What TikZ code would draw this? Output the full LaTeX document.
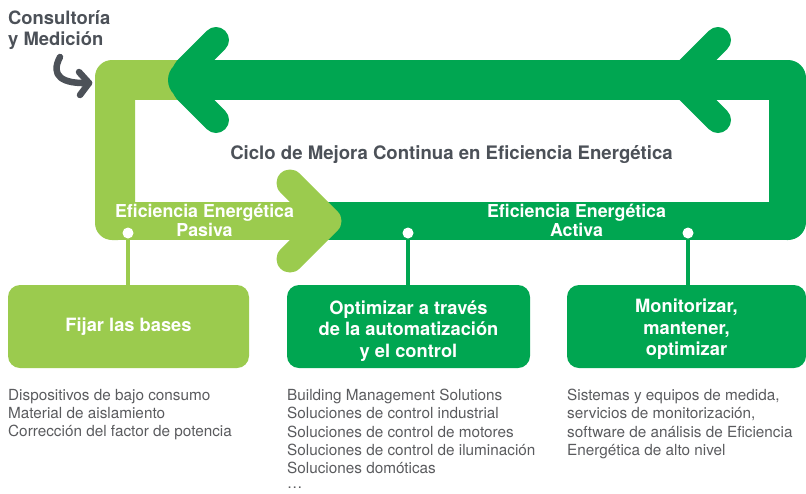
\documentclass[tikz,border=0pt]{standalone}
\usepackage{fontspec}
\setmainfont{TeX Gyre Heros}
\definecolor{dgreen}{HTML}{00A651}
\definecolor{lgreen}{HTML}{9BCB4E}
\definecolor{tgray}{HTML}{4C5158}
\definecolor{lgray}{HTML}{5A5B5E}
\begin{document}
\begin{tikzpicture}[x=1pt,y=-1pt,
  chev/.style={line width=26pt, line cap=round, line join=round},
  stem/.style={line width=4pt},
  dot/.style={circle, fill=white, minimum size=11pt, inner sep=0pt},
  stepbox/.style={rounded corners=12pt, minimum height=83pt, inner sep=0pt, text=white, align=center, font=\fontsize{18.3}{21.5}\selectfont\bfseries},
  bandlabel/.style={text=white, align=center, font=\fontsize{17.8}{19}\selectfont\bfseries, inner sep=0pt},
  listtext/.style={text=lgray, align=left, anchor=north west, inner sep=0pt, font=\fontsize{15.3}{18.3}\selectfont},
  headtext/.style={text=tgray, inner sep=0pt, font=\fontsize{18.4}{21}\selectfont\bfseries},
  grayarrow/.style={draw=tgray, line width=6.5pt, line cap=round, line join=round},
]
\useasboundingbox (0,0) rectangle (806,493);

% light green band (left and top start)
\fill[lgreen, rounded corners=17pt] (95,60) rectangle (135,240);
\fill[lgreen] (120,60) rectangle (200,100);

% dark green band: top, right, bottom
\fill[dgreen] (188,60) rectangle (790,100);
\fill[dgreen] (188,80) circle (20);
\fill[dgreen, rounded corners=18pt] (769,60) rectangle (806,240);
\fill[dgreen] (320,201.7) rectangle (790,240);

% left arrowhead of the top band
\coordinate (la1) at (216,40);
\coordinate (la2) at (186,70);
\coordinate (la3) at (186,90);
\coordinate (la4) at (216,120);
\draw[chev, dgreen] (la1) -- (la2);
\draw[chev, dgreen] (la4) -- (la3);

% right chevron on the top band
\coordinate (ra1) at (718,40);
\coordinate (ra2) at (678,80);
\coordinate (ra3) at (718,120);
\draw[chev, dgreen] (ra1) -- (ra2) -- (ra3);

% light green bottom band with arrowhead
\fill[lgreen] (120,201.7) rectangle (320,240);
\coordinate (ba1) at (290,183);
\coordinate (ba2) at (328,221);
\coordinate (ba3) at (290,259);
\draw[chev, lgreen, line width=27pt] (ba1) -- (ba2) -- (ba3);

% title
\node[headtext, anchor=base, font=\fontsize{18.6}{22}\selectfont\bfseries] (title) at (451.5,159) {Ciclo de Mejora Continua en Eficiencia Energética};

% Consultoria
\node[headtext, align=left, anchor=north west] (cons) at (8,10.5) {Consultoría\\y Medición};
\coordinate (g1) at (60,57);
\coordinate (g2) at (89,83);
\coordinate (gh1) at (79,72);
\coordinate (gh2) at (80,95);
\draw[grayarrow] (g1) .. controls (50,76) and (62,84) .. (g2);
\draw[grayarrow] (gh1) -- (g2) -- (gh2);

% band labels
\node[bandlabel] (pasiva) at (204.5,220.5) {Eficiencia Energética\\Pasiva};
\node[bandlabel] (activa) at (576.5,220.5) {Eficiencia Energética\\Activa};

% boxes
\node[stepbox, fill=lgreen, minimum width=241pt] (b1) at (128.5,326.5) {Fijar las bases};
\node[stepbox, fill=dgreen, minimum width=243pt] (b2) at (408.5,326.5) {\rule{0pt}{22pt}Optimizar a través\\de la automatización\\y el control};
\node[stepbox, fill=dgreen, minimum width=239pt] (b3) at (686.5,326.5) {\rule{0pt}{19.5pt}Monitorizar,\\mantener,\\optimizar};

% dots and stems
\node[dot] (d1) at (128,233) {};
\node[dot] (d2) at (408,233) {};
\node[dot] (d3) at (688,233) {};
\draw[stem, lgreen] (d1) -- (d1 |- b1.north);
\draw[stem, dgreen] (d2) -- (d2 |- b2.north);
\draw[stem, dgreen] (d3) -- (d3 |- b3.north);

% lists
\node[listtext] (l1) at (8,389) {Dispositivos de bajo consumo\\Material de aislamiento\\Corrección del factor de potencia};
\node[listtext] (l2) at (287,389) {Building Management Solutions\\Soluciones de control industrial\\Soluciones de control de motores\\Soluciones de control de iluminación\\Soluciones domóticas\\[-3.5pt]…};
\node[listtext] (l3) at (567,389) {Sistemas y equipos de medida,\\servicios de monitorización,\\software de análisis de Eficiencia\\Energética de alto nivel};
\end{tikzpicture}
\end{document}
